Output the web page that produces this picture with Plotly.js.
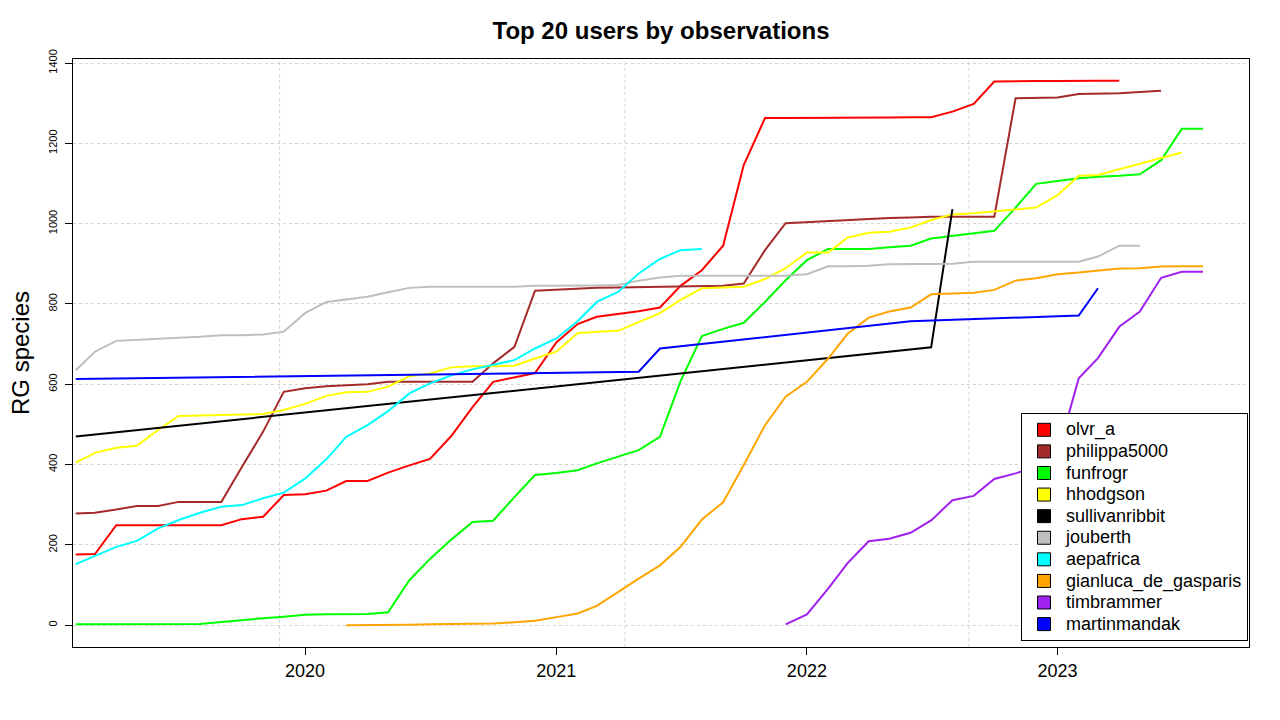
<!DOCTYPE html>
<html>
<head>
<meta charset="utf-8">
<script src="https://cdn.plot.ly/plotly-3.0.1.min.js"></script>
<style>html,body{margin:0;padding:0;background:#fff;}#chart{width:1280px;height:720px;}</style>
</head>
<body>
<div id="chart"></div>
<script>
// Monthly sample dates (2019-02 .. 2023-08)
const months = [
 "2019-02-01","2019-03-01","2019-04-01","2019-05-01","2019-06-01","2019-07-01","2019-08-01","2019-09-01","2019-10-01","2019-11-01","2019-12-01",
 "2020-01-01","2020-02-01","2020-03-01","2020-04-01","2020-05-01","2020-06-01","2020-07-01","2020-08-01","2020-09-01","2020-10-01","2020-11-01","2020-12-01",
 "2021-01-01","2021-02-01","2021-03-01","2021-04-01","2021-05-01","2021-06-01","2021-07-01","2021-08-01","2021-09-01","2021-10-01","2021-11-01","2021-12-01",
 "2022-01-01","2022-02-01","2022-03-01","2022-04-01","2022-05-01","2022-06-01","2022-07-01","2022-08-01","2022-09-01","2022-10-01","2022-11-01","2022-12-01",
 "2023-01-01","2023-02-01","2023-03-01","2023-04-01","2023-05-01","2023-06-01","2023-07-01","2023-08-01"
];

const userNames = ["olvr_a","philippa5000","funfrogr","hhodgson","sullivanribbit","jouberth","aepafrica","gianluca_de_gasparis","timbrammer","martinmandak"];
const userColors = ["#FF0000","#A52A2A","#00FF00","#FFFF00","#000000","#BEBEBE","#00FFFF","#FFA500","#A020F0","#0000FF"];

// cumulative research-grade species, first month of each monthly series
const olvr_a_first = "2019-02-01";
const olvr_a = [176,177,249,249,249,249,249,249,264,270,324,326,335,359,359,380,398,414,471,543,606,617,628,704,750,768,775,782,791,845,884,945,1146,1263,1263,1263,1264,1264,1264,1264,1265,1265,1279,1298,1354,1355,1355,1355,1356,1356,1356];

const philippa5000_first = "2019-02-01";
const philippa5000 = [278,280,288,297,297,307,307,307,394,482,581,590,595,598,600,606,606,606,606,606,652,693,833,836,839,840,841,842,843,844,845,845,851,934,1001,1004,1006,1009,1012,1014,1015,1017,1017,1017,1017,1312,1313,1314,1323,1324,1325,1328,1331];

const funfrogr_first = "2019-02-01";
const funfrogr = [2,2,2,2,2,2,3,8,13,17,21,26,27,27,28,32,112,165,213,257,260,319,374,379,386,403,420,436,469,608,720,738,753,805,859,909,937,937,937,941,945,963,970,976,982,1040,1099,1106,1113,1117,1119,1123,1158,1236,1236];

const hhodgson_first = "2019-02-01";
const hhodgson = [405,429,442,447,486,521,522,523,524,526,536,551,571,580,581,594,620,627,642,645,645,646,664,681,727,731,733,755,777,810,839,841,843,862,889,928,928,965,977,980,990,1009,1023,1026,1030,1036,1040,1071,1119,1121,1135,1148,1163,1177];

const sullivanribbit_dates = ["2019-02-01","2022-07-01","2022-08-01"];
const sullivanribbit = [470,692,1036];

const jouberth_first = "2019-02-01";
const jouberth = [635,681,708,711,713,716,718,722,722,724,731,777,805,812,818,829,840,843,843,843,843,843,845,845,846,846,847,858,866,870,870,870,870,870,870,874,894,894,895,899,899,900,900,905,905,905,905,905,905,918,945,945];

const aepafrica_first = "2019-02-01";
const aepafrica = [152,172,195,210,241,262,280,295,299,316,330,365,413,469,498,533,577,602,622,637,648,660,689,714,757,805,830,876,912,934,937];

const gianluca_first = "2020-03-01";
const gianluca_de_gasparis = [0,0,0,1,2,3,3,4,7,11,20,29,48,83,116,149,195,263,306,399,498,569,606,664,725,766,781,791,824,826,828,835,858,864,874,878,883,888,889,893,894,894];

const timbrammer_first = "2021-12-01";
const timbrammer = [2,27,91,154,209,215,230,261,311,322,364,378,395,425,615,665,743,781,865,880,880];

const martinmandak_dates = ["2019-02-01","2021-05-01","2021-06-01","2022-06-01","2023-02-01","2023-03-01"];
const martinmandak = [613,631,689,757,771,839];

// axis labels
const yearTicks = ["2020-01-01","2021-01-01","2022-01-01","2023-01-01"];
const yearLabels = ["2020","2021","2022","2023"];
const gridDates = ["2019-11-25","2021-04-11","2022-08-25"];
const yTicks = [0,200,400,600,800,1000,1200,1400];

function datesFrom(first, vals){
  const i = months.indexOf(first);
  return months.slice(i, i + vals.length);
}

const seriesX = [
  datesFrom(olvr_a_first, olvr_a),
  datesFrom(philippa5000_first, philippa5000),
  datesFrom(funfrogr_first, funfrogr),
  datesFrom(hhodgson_first, hhodgson),
  sullivanribbit_dates,
  datesFrom(jouberth_first, jouberth),
  datesFrom(aepafrica_first, aepafrica),
  datesFrom(gianluca_first, gianluca_de_gasparis),
  datesFrom(timbrammer_first, timbrammer),
  martinmandak_dates
];
const seriesY = [olvr_a, philippa5000, funfrogr, hhodgson, sullivanribbit, jouberth, aepafrica, gianluca_de_gasparis, timbrammer, martinmandak];

const traces = [];
for (let k = 0; k < userNames.length; k++) {
  traces.push({
    type:'scatter', mode:'lines', x: seriesX[k], y: seriesY[k],
    name: userNames[k], showlegend:false, hoverinfo:'skip',
    line:{color:userColors[k], width:2, shape:'linear'}
  });
}
for (let k = 0; k < userNames.length; k++) {
  traces.push({
    type:'scatter', mode:'markers', x:[null], y:[null],
    name:'<span style="font-size:18px">' + userNames[k] + '</span>',
    showlegend:true,
    marker:{symbol:'square', size:13, color:userColors[k], line:{color:'black', width:1}}
  });
}

const xRange = ["2019-01-28","2023-10-07"];

const layout = {
  width:1280, height:720,
  margin:{l:73, r:31, t:59, b:73},
  paper_bgcolor:'white', plot_bgcolor:'white',
  font:{family:'"Liberation Sans", Arial, sans-serif', color:'black'},
  title:{text:'<b>Top 20 users by observations</b>', font:{size:24, color:'black'}, x:0.5, xref:'paper', xanchor:'center', y:1-31/720, yref:'container', yanchor:'middle'},
  xaxis:{type:'date', range:xRange, tickmode:'array', tickvals:yearTicks, ticktext:yearLabels,
    ticks:'outside', ticklen:7, tickcolor:'black', tickwidth:1, showgrid:false, zeroline:false,
    showline:true, mirror:true, linecolor:'black', linewidth:1, tickfont:{size:18}},
  yaxis:{range:[-54.4,1410], tickmode:'array', tickvals:yTicks, ticktext:yTicks.map(String),
    ticks:'outside', ticklen:7, tickcolor:'black', tickwidth:1, tickangle:-90, tickfont:{size:11},
    ticklabelstandoff:4,
    showgrid:true, gridcolor:'#d3d3d3', griddash:'dot', gridwidth:1, zeroline:false,
    showline:true, mirror:true, linecolor:'black', linewidth:1,
    title:{text:'RG species', font:{size:24}, standoff:10}},
  shapes: gridDates.map(d => ({type:'line', xref:'x', yref:'paper', x0:d, x1:d, y0:0, y1:1, layer:'below',
    line:{color:'#d3d3d3', width:1, dash:'dot'}})),
  legend:{x:(1021-73)/1176, y:(647-413)/588, xanchor:'left', yanchor:'top', bordercolor:'black', borderwidth:1,
    bgcolor:'white', font:{size:14.3, color:'black'}, tracegroupgap:0, itemsizing:'trace', itemwidth:34},
  showlegend:true
};

Plotly.newPlot('chart', traces, layout, {staticPlot:true, displayModeBar:false});
</script>
</body>
</html>
